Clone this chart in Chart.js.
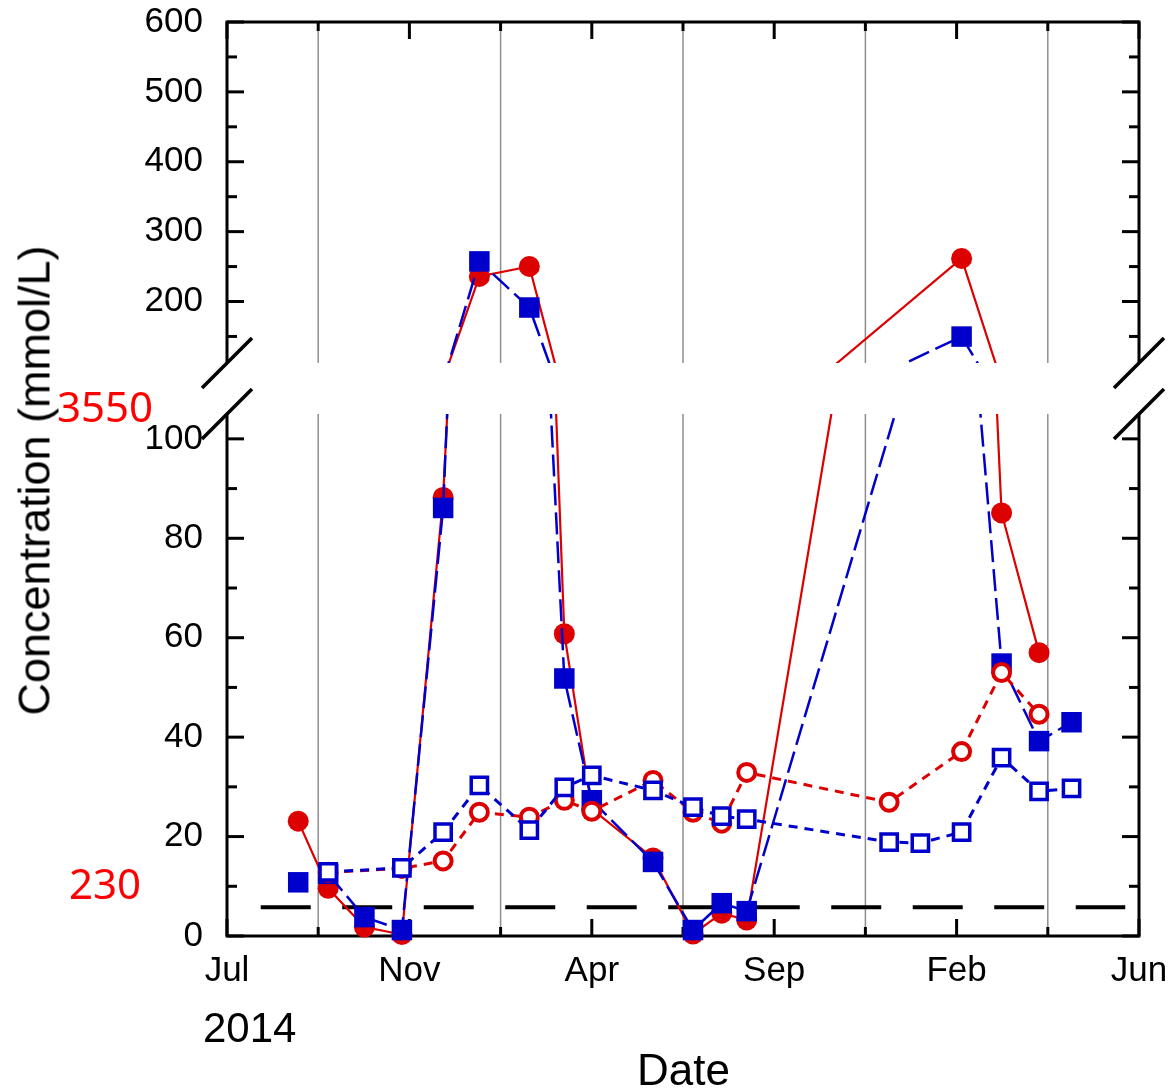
<!DOCTYPE html>
<html>
<head>
<meta charset="utf-8">
<script src="https://cdn.jsdelivr.net/npm/chart.js@4.4.1/dist/chart.umd.min.js"></script>
<style>
  html, body { margin: 0; padding: 0; background: #fff; }
  #wrap { position: relative; width: 1172px; height: 1089px; overflow: hidden; background: #fff; }
  canvas { position: absolute; left: 0; }
  #upper { top: 0; }
  #lower { top: 385px; }
  .txt { position: absolute; white-space: nowrap; font-family: 'Liberation Sans', Arial, sans-serif; color: #000; }
  .note { position: absolute; white-space: nowrap; font-family: 'Noto Sans', sans-serif; color: #ff0000; font-size: 42px; line-height: 42px; }
</style>
</head>
<body>
<div id="wrap">
  <canvas id="upper" width="1172" height="390"></canvas>
  <canvas id="lower" width="1172" height="704"></canvas>
  <div class="txt" style="left:-266px;top:457.5px;width:600px;height:45px;font-size:45px;line-height:45px;text-align:center;transform:rotate(-90deg);">Concentration (mmol/L)</div>
  <div class="txt" style="left:583.5px;top:1047.7px;width:200px;font-size:44px;line-height:44px;text-align:center;">Date</div>
  <div class="txt" style="left:203px;top:1007.4px;font-size:42px;line-height:42px;">2014</div>
  <div class="note" style="left:57px;top:384.7px;">3550</div>
  <div class="note" style="left:69px;top:861.7px;">230</div>
</div>
<script>
const RED = '#dd0000';
const BLUE = '#0000cc';

// x = days since 1 Jul 2014
const xTickValues = [0, 146, 292, 438, 584, 730];
const xTickLabels = ['Jul', 'Nov', 'Apr', 'Sep', 'Feb', 'Jun'];
const xMinorValues = [73, 219, 365, 511, 657];

const upperTicks = [200, 300, 400, 500, 600];
const upperMinor = [150, 250, 350, 450, 550];
const lowerTicks = [0, 20, 40, 60, 80, 100];
const lowerMinor = [10, 30, 50, 70, 90];

const redFilledDays = [57, 81, 110, 140, 173, 202, 242, 270, 292, 341, 373, 396, 416, 588, 620, 650];
const redFilledValues = [23.1, 9.6, 1.8, 0.3, 88.2, 235.9, 250.2, 60.8, 25.5, 15.7, 0.4, 4.6, 3.2, 261.7, 85.1, 57.0];

// null = no line between the first two samples
const blueFilledDays = [57, 81, 81, 110, 140, 173, 202, 242, 270, 292, 341, 373, 396, 416, 588, 620, 650, 676];
const blueFilledValues = [10.8, null, 12.5, 3.8, 1.2, 86.1, 257.4, 191.4, 51.8, 27.3, 14.9, 1.2, 6.6, 5.0, 149.8, 54.8, 39.2, 43.0];

const redOpenDays = [81, 140, 173, 202, 242, 270, 292, 341, 373, 396, 416, 530, 588, 620, 650];
const redOpenValues = [12.8, 13.6, 15.1, 24.9, 23.9, 27.3, 25.1, 31.3, 24.9, 22.7, 32.9, 26.9, 37.1, 53.0, 44.6];

const blueOpenDays = [81, 140, 173, 202, 242, 270, 292, 341, 373, 396, 416, 530, 555, 588, 620, 650, 676];
const blueOpenValues = [12.9, 13.7, 20.9, 30.3, 21.3, 29.9, 32.3, 29.3, 25.9, 24.1, 23.5, 18.9, 18.7, 20.9, 35.9, 29.1, 29.7];

const limitDays = [27, 719];
const limitValues = [5.8, 5.8];

const pts = (days, vals) => days.map((d, i) => ({ x: d, y: vals[i] }));

function buildDatasets(clip) {
  return [
    {
      data: pts(blueOpenDays, blueOpenValues), order: 0, showLine: true, clip,
      borderColor: BLUE, borderWidth: 3, borderDash: [9, 7],
      pointStyle: 'rect', pointRadius: 11.5, pointBorderWidth: 3.5,
      pointBorderColor: BLUE, pointBackgroundColor: '#fff'
    },
    {
      data: pts(redOpenDays, redOpenValues), order: 1, showLine: true, clip,
      borderColor: RED, borderWidth: 3, borderDash: [9, 7],
      pointStyle: 'circle', pointRadius: 8.5, pointBorderWidth: 4,
      pointBorderColor: RED, pointBackgroundColor: '#fff'
    },
    {
      data: pts(blueFilledDays, blueFilledValues), order: 2, showLine: true, clip,
      borderColor: BLUE, borderWidth: 2.5, borderDash: [22, 7],
      pointStyle: 'rect', pointRadius: 14.5, pointBorderWidth: 0,
      pointBackgroundColor: BLUE
    },
    {
      data: pts(redFilledDays, redFilledValues), order: 3, showLine: true, clip,
      borderColor: RED, borderWidth: 2.2,
      pointStyle: 'circle', pointRadius: 10.5, pointBorderWidth: 0,
      pointBackgroundColor: RED
    },
    {
      data: pts(limitDays, limitValues), order: 4, showLine: true, clip,
      borderColor: '#000', borderWidth: 4, borderDash: [50, 31.5], pointRadius: 0
    }
  ];
}

// frame, inward ticks, season lines and axis-break marks
const axisFrame = {
  id: 'axisFrame',
  beforeDatasetsDraw(chart, args, opts) {
    const { ctx, chartArea: a, scales: { x, y } } = chart;
    const seg = (x0, y0, x1, y1) => { ctx.beginPath(); ctx.moveTo(x0, y0); ctx.lineTo(x1, y1); ctx.stroke(); };
    ctx.save();
    ctx.strokeStyle = '#8e8e8e';
    ctx.lineWidth = 1.5;
    xMinorValues.forEach(v => { const px = x.getPixelForValue(v); seg(px, a.top, px, a.bottom); });

    ctx.strokeStyle = '#000';
    ctx.lineWidth = 3;
    ctx.lineJoin = 'miter';
    ctx.beginPath();
    if (opts.edge === 'top') {
      ctx.moveTo(a.left, a.bottom); ctx.lineTo(a.left, a.top); ctx.lineTo(a.right, a.top); ctx.lineTo(a.right, a.bottom);
    } else {
      ctx.moveTo(a.left, a.top); ctx.lineTo(a.left, a.bottom); ctx.lineTo(a.right, a.bottom); ctx.lineTo(a.right, a.top);
    }
    ctx.stroke();

    opts.yMajor.forEach(v => { const py = y.getPixelForValue(v); seg(a.left, py, a.left + 17, py); seg(a.right, py, a.right - 17, py); });
    opts.yMinor.forEach(v => { const py = y.getPixelForValue(v); seg(a.left, py, a.left + 10, py); seg(a.right, py, a.right - 10, py); });
    const ey = opts.edge === 'top' ? a.top : a.bottom;
    const dir = opts.edge === 'top' ? 1 : -1;
    xTickValues.forEach(v => { const px = x.getPixelForValue(v); seg(px, ey, px, ey + dir * 17); });
    xMinorValues.forEach(v => { const px = x.getPixelForValue(v); seg(px, ey, px, ey + dir * 9); });

    const by = opts.edge === 'top' ? a.bottom : a.top;
    ctx.lineWidth = 3.5;
    [a.left, a.right].forEach(bx => seg(bx - 25, by + 25, bx + 25, by - 25));
    ctx.restore();
  }
};

Chart.defaults.font.family = "'Liberation Sans', Arial, sans-serif";

function yAxis(min, max, ticks) {
  return {
    type: 'linear', min, max,
    grid: { display: false, drawTicks: false },
    border: { display: false },
    ticks: { font: { size: 35 }, color: '#000', padding: 24 },
    afterBuildTicks: (s) => { s.ticks = ticks.map(v => ({ value: v })); },
    afterFit: (s) => { s.width = 227; s.paddingTop = 0; s.paddingBottom = 0; }
  };
}

const common = {
  responsive: false,
  animation: false,
  events: []
};

new Chart(document.getElementById('upper'), {
  type: 'scatter',
  data: { datasets: buildDatasets({ left: 20, right: 20, top: 20, bottom: 0 }) },
  options: {
    ...common,
    layout: { autoPadding: false, padding: { left: 0, right: 33, top: 22, bottom: 27 } },
    plugins: {
      legend: { display: false },
      tooltip: { enabled: false },
      axisFrame: { edge: 'top', yMajor: upperTicks, yMinor: upperMinor }
    },
    scales: {
      x: { type: 'linear', display: false, min: 0, max: 730 },
      y: yAxis(112, 600, upperTicks)
    }
  },
  plugins: [axisFrame]
});

new Chart(document.getElementById('lower'), {
  type: 'scatter',
  data: { datasets: buildDatasets({ left: 20, right: 20, top: 0, bottom: 20 }) },
  options: {
    ...common,
    layout: { autoPadding: false, padding: { left: 0, right: 33, top: 29, bottom: 0 } },
    plugins: {
      legend: { display: false },
      tooltip: { enabled: false },
      axisFrame: { edge: 'bottom', yMajor: lowerTicks, yMinor: lowerMinor }
    },
    scales: {
      x: {
        type: 'linear', min: 0, max: 730,
        grid: { display: false, drawTicks: false },
        border: { display: false },
        ticks: {
          font: { size: 35 }, color: '#000', padding: 14,
          autoSkip: false, maxRotation: 0,
          callback: (v, i) => xTickLabels[i]
        },
        afterBuildTicks: (s) => { s.ticks = xTickValues.map(v => ({ value: v })); },
        afterFit: (s) => { s.height = 153; s.paddingLeft = 0; s.paddingRight = 0; }
      },
      y: yAxis(0, 105, lowerTicks)
    }
  },
  plugins: [axisFrame]
});
</script>
</body>
</html>
